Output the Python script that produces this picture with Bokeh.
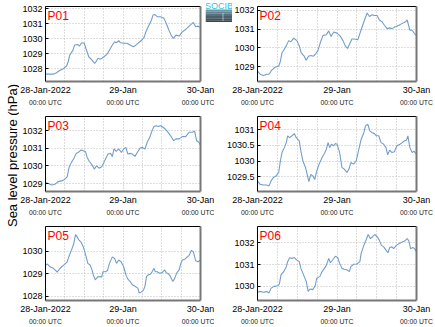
import math
from bokeh.plotting import figure
from bokeh.layouts import column, row
from bokeh.models import Range1d, FixedTicker, LinearAxis, Label
from bokeh.core.properties import value
from bokeh.embed import file_html
from bokeh.resources import INLINE

# ---------------- data ----------------
stations = ["P01", "P02", "P03", "P04", "P05", "P06"]

hours_p01 = [0, 2.4, 3.4, 4.5, 5.5, 6.5, 7.0, 7.5, 8.5, 9.0, 10.0, 10.5, 11.2, 12.0, 12.6, 13.4, 14.4, 15.2, 15.6, 16.3,
             17.1, 18.1, 19.1, 19.8, 20.7, 21.4, 21.9, 22.7, 23.2, 24.2, 25.2, 26.2, 27.2, 27.7, 28.8, 29.8, 30.6, 31.1, 31.8, 32.8,
             33.3, 33.8, 34.6, 35.6, 36.7, 37.4, 38.2, 38.9, 39.6, 40.4, 41.4, 42.4, 43.4, 44.5, 45.8, 46.5, 47.2, 48.0]
pres_p01 = [1027.64, 1027.64, 1027.73, 1027.9, 1028.0, 1028.18, 1028.45, 1028.9, 1029.24, 1029.58,
            1029.62, 1029.5, 1029.73, 1029.7, 1029.3, 1028.8, 1028.58, 1028.35, 1028.46, 1028.7,
            1028.64, 1028.8, 1028.98, 1029.24, 1029.58, 1029.8, 1029.73, 1029.87, 1029.73, 1029.7,
            1029.7, 1029.58, 1029.47, 1029.53, 1029.73, 1029.9, 1030.13, 1030.47, 1030.8, 1031.24,
            1031.58, 1031.62, 1031.47, 1031.47, 1031.36, 1031.02, 1030.58, 1030.24, 1030.02, 1030.24,
            1030.18, 1030.47, 1030.62, 1030.84, 1031.09, 1030.8, 1030.84, 1030.76]

hours_p02 = [0, 0.8, 1.8, 2.8, 3.5, 4.3, 5.3, 6.4, 6.9, 7.4, 8.1, 8.7, 9.4, 10.1, 10.9, 11.9, 12.6, 13.2, 14.1, 14.7,
             15.4, 16.1, 16.9, 17.4, 18.2, 19.0, 19.8, 20.8, 21.5, 22.2, 23.0, 24.0, 25.0, 25.8, 26.5, 27.2, 27.8, 28.5, 29.2, 30.3,
             30.9, 31.6, 32.3, 33.1, 33.8, 34.6, 35.3, 36.1, 36.8, 37.6, 38.3, 39.1, 39.9, 40.6, 41.6, 42.7, 43.7, 44.7, 45.2, 46.0,
             46.7, 47.4, 48.0]
pres_p02 = [1028.76, 1028.59, 1028.52, 1028.59, 1028.59, 1028.81, 1028.96, 1029.03, 1029.27, 1029.73,
            1029.92, 1030.1, 1030.38, 1030.32, 1030.51, 1030.38, 1030.1, 1029.73, 1029.55, 1029.33,
            1029.55, 1029.59, 1029.55, 1029.64, 1029.83, 1030.29, 1030.66, 1030.69, 1030.9, 1030.6,
            1030.84, 1030.78, 1030.62, 1030.38, 1030.1, 1029.96, 1030.2, 1030.47, 1030.47, 1030.43,
            1030.75, 1031.12, 1031.48, 1031.85, 1031.67, 1031.76, 1031.72, 1031.72, 1031.48, 1031.39,
            1031.2, 1031.02, 1031.06, 1031.02, 1031.12, 1031.2, 1031.3, 1031.39, 1031.48, 1030.93,
            1030.93, 1030.75, 1030.66]

hours_p03 = [0, 0.9, 1.9, 2.9, 3.9, 5.0, 6.0, 6.7, 7.3, 8.0, 8.7, 9.5, 10.2, 11.0, 11.7, 12.4, 12.9, 13.6, 14.4, 15.1,
             15.8, 16.6, 17.4, 18.1, 18.8, 19.4, 20.2, 20.7, 21.2, 21.9, 22.7, 23.5, 24.2, 24.9, 25.5, 26.2, 26.9, 27.7, 28.6, 29.3,
             30.0, 30.8, 31.5, 32.3, 33.0, 33.6, 34.3, 35.0, 35.6, 36.4, 37.1, 37.9, 38.7, 39.7, 40.4, 41.4, 42.4, 43.4, 44.5, 45.5,
             46.2, 46.8, 47.5, 48.0]
pres_p03 = [1029.06, 1029.0, 1028.92, 1028.96, 1029.11, 1029.15, 1029.25, 1029.38, 1029.91, 1030.2,
            1030.39, 1030.71, 1030.77, 1030.9, 1030.86, 1030.8, 1030.48, 1030.25, 1030.06, 1029.82,
            1030.0, 1029.87, 1029.95, 1030.2, 1030.48, 1030.67, 1030.71, 1030.52, 1030.96, 1030.82,
            1030.96, 1030.77, 1030.96, 1031.05, 1030.67, 1030.71, 1030.67, 1030.54, 1030.82, 1031.01,
            1031.05, 1030.96, 1031.34, 1031.62, 1032.0, 1032.23, 1032.28, 1032.23, 1032.28, 1032.19,
            1032.09, 1031.91, 1031.72, 1031.43, 1031.53, 1031.53, 1031.66, 1031.66, 1031.91, 1031.91,
            1031.96, 1031.43, 1031.34, 1031.15]

hours_p04 = [0, 0.8, 1.8, 2.8, 3.5, 4.1, 4.8, 5.6, 6.4, 6.9, 7.4, 8.1, 8.7, 9.1, 9.7, 10.4, 11.1, 11.7, 12.6, 13.1,
             13.7, 14.5, 15.1, 15.5, 16.1, 16.7, 17.3, 17.9, 18.6, 19.5, 20.2, 20.8, 21.3, 21.8, 22.3, 23.0, 23.5, 24.0, 24.8, 25.5,
             26.2, 27.0, 27.6, 28.2, 29.0, 29.8, 30.6, 31.3, 32.1, 32.6, 33.3, 33.9, 34.6, 35.3, 35.9, 36.6, 37.3, 38.1, 38.8, 39.3,
             39.9, 40.6, 41.3, 42.1, 43.0, 43.7, 44.4, 45.0, 45.4, 46.0, 46.7, 47.2, 48.0]
pres_p04 = [1029.36, 1029.25, 1029.23, 1029.23, 1029.2, 1029.36, 1029.47, 1029.52, 1029.63, 1030.0,
            1030.27, 1030.43, 1030.59, 1030.81, 1030.75, 1030.81, 1030.88, 1030.75, 1030.65, 1030.32,
            1030.0, 1029.79, 1029.52, 1029.34, 1029.57, 1029.52, 1029.41, 1029.68, 1029.9, 1030.11,
            1030.24, 1030.38, 1030.59, 1030.43, 1030.54, 1030.49, 1030.56, 1030.54, 1030.27, 1029.79,
            1029.74, 1029.63, 1029.74, 1029.95, 1029.9, 1030.0, 1030.38, 1030.7, 1030.91, 1031.13,
            1031.18, 1030.97, 1030.91, 1030.88, 1030.81, 1030.81, 1030.59, 1030.54, 1030.43, 1030.2,
            1030.35, 1030.27, 1030.3, 1030.49, 1030.54, 1030.59, 1030.65, 1030.67, 1030.81, 1030.43,
            1030.27, 1030.32, 1030.22]

hours_p05 = [0, 0.6, 1.4, 2.4, 3.2, 3.6, 4.3, 5.0, 6.0, 6.7, 7.3, 8.0, 8.7, 9.3, 9.7, 10.3, 11.0, 11.7, 12.6, 13.1,
             13.8, 14.4, 14.8, 15.4, 16.1, 16.8, 17.4, 17.8, 18.6, 19.2, 19.8, 20.7, 21.4, 22.0, 22.7, 23.4, 24.2, 24.9, 25.5, 26.2,
             26.9, 27.7, 28.6, 29.0, 29.6, 30.3, 30.8, 31.3, 31.8, 32.5, 33.0, 33.6, 34.0, 34.6, 35.3, 36.1, 36.9, 37.4, 38.1, 38.7,
             39.4, 39.9, 40.7, 41.4, 41.9, 42.4, 43.1, 43.7, 44.5, 45.2, 45.8, 46.5, 47.2, 48.0]
pres_p05 = [1029.39, 1029.43, 1029.31, 1029.24, 1029.14, 1029.07, 1029.2, 1029.31, 1029.43, 1029.53,
            1029.78, 1030.04, 1030.31, 1030.74, 1030.66, 1030.51, 1030.41, 1030.19, 1029.75, 1029.46,
            1029.39, 1029.17, 1028.95, 1028.73, 1028.85, 1028.88, 1028.85, 1029.09, 1029.09, 1029.14,
            1029.46, 1029.75, 1029.68, 1029.46, 1029.61, 1029.53, 1029.31, 1028.95, 1028.76, 1028.66,
            1028.51, 1028.44, 1028.36, 1028.15, 1028.18, 1028.26, 1028.44, 1028.88, 1028.95, 1028.98,
            1029.09, 1029.24, 1029.09, 1029.09, 1029.02, 1029.05, 1029.17, 1029.05, 1028.99, 1028.88,
            1028.66, 1028.76, 1029.05, 1029.17, 1029.46, 1029.61, 1029.64, 1029.72, 1029.82, 1030.04,
            1029.97, 1029.58, 1029.53, 1029.61]

hours_p06 = [0, 0.8, 1.8, 2.8, 3.5, 4.1, 5.0, 6.1, 6.6, 7.1, 7.9, 8.7, 9.1, 9.7, 10.4, 11.1, 11.9, 12.6, 13.1, 13.9,
             14.7, 15.3, 15.9, 16.7, 17.4, 17.9, 18.8, 19.5, 20.2, 20.8, 21.5, 22.0, 22.8, 23.5, 24.2, 24.8, 25.5, 26.2, 27.0, 27.7,
             28.2, 29.0, 30.0, 30.9, 31.3, 32.1, 32.8, 33.4, 34.1, 34.8, 35.4, 36.1, 36.8, 37.4, 38.1, 38.8, 39.4, 39.9, 40.6, 41.1,
             41.9, 42.7, 43.7, 44.4, 45.2, 45.7, 46.2, 46.9, 47.4, 48.0]
pres_p06 = [1029.73, 1029.77, 1029.73, 1029.76, 1029.7, 1029.92, 1030.0, 1030.03, 1030.12, 1030.53,
            1030.68, 1030.91, 1031.14, 1031.32, 1031.29, 1031.33, 1031.21, 1031.14, 1030.83, 1030.53,
            1030.23, 1029.77, 1029.88, 1029.85, 1030.03, 1030.38, 1030.45, 1030.68, 1030.83, 1030.98,
            1031.29, 1031.09, 1031.24, 1031.39, 1031.33, 1031.06, 1030.83, 1030.79, 1030.76, 1030.68,
            1030.91, 1031.02, 1031.03, 1031.14, 1031.52, 1031.89, 1032.15, 1032.39, 1032.2, 1032.3,
            1032.39, 1032.3, 1032.12, 1031.89, 1031.82, 1031.67, 1031.55, 1031.79, 1031.82, 1031.74,
            1031.89, 1031.97, 1032.05, 1032.09, 1032.2, 1032.09, 1031.74, 1031.79, 1031.74, 1031.59]

# y-axis limits and ticks (hPa)
ylim_p01 = (1027.15, 1032.15)
ylim_p02 = (1028.2, 1032.2)
ylim_p03 = (1028.55, 1032.8)
ylim_p04 = (1029.02, 1031.43)
ylim_p05 = (1027.81, 1031.1)
ylim_p06 = (1029.35, 1032.76)
yticks_p01 = [1028, 1029, 1030, 1031, 1032]
yticks_p02 = [1029, 1030, 1031, 1032]
yticks_p03 = [1029, 1030, 1031, 1032]
yticks_p04 = [1029.5, 1030, 1030.5, 1031]
yticks_p05 = [1028, 1029, 1030]
yticks_p06 = [1030, 1031, 1032]

# x axis: hours since 28-Jan-2022 00:00 UTC
x_tick_hours = [0, 24, 48]
x_tick_dates = ["28-Jan-2022", "29-Jan", "30-Jan"]
x_tick_times = ["00:00 UTC", "00:00 UTC", "00:00 UTC"]
grid_hours = [0, 6, 12, 18, 24, 30, 36, 42, 48]
y_title = "Sea level pressure (hPa)"
logo_text = "SOCIB"

series = [
    (hours_p01, pres_p01, ylim_p01, yticks_p01),
    (hours_p02, pres_p02, ylim_p02, yticks_p02),
    (hours_p03, pres_p03, ylim_p03, yticks_p03),
    (hours_p04, pres_p04, ylim_p04, yticks_p04),
    (hours_p05, pres_p05, ylim_p05, yticks_p05),
    (hours_p06, pres_p06, ylim_p06, yticks_p06),
]

FONT = "Liberation Sans"
LINE_COLOR = "#729ecb"
EDGE_GRAY = "#777777"
TITLE_W = 19
LEFT_W = 214 - TITLE_W
RIGHT_W = 435 - 214
FRAME_W = {0: 158, 1: 159}
FRAME_H = 75


def make_panel(i):
    hrs, vals, ylim, yticks = series[i]
    n = min(len(hrs), len(vals))
    col_i = i % 2
    row_i = i // 2
    left = col_i == 0
    width = LEFT_W if left else RIGHT_W
    height = 107 if row_i == 2 else 110
    bl = 42 - TITLE_W if left else 257 - 214
    p = figure(width=width, height=height, output_backend="svg", toolbar_location=None,
               x_range=Range1d(0, 48), y_range=Range1d(*ylim),
               min_border_left=bl, min_border_right=width - bl - FRAME_W[col_i],
               min_border_top=6, min_border_bottom=height - 6 - FRAME_H,
               background_fill_color="white", border_fill_color="white")
    p.outline_line_color = None

    p.line(hrs[:n], vals[:n], line_color=LINE_COLOR, line_width=1.1)

    # grids
    p.xgrid.ticker = FixedTicker(ticks=grid_hours)
    p.ygrid.ticker = FixedTicker(ticks=yticks)
    for g in (p.xgrid[0], p.ygrid[0]):
        g.grid_line_color = "#bdbdbd"
        g.grid_line_dash = "1 2"
        g.grid_line_width = 1

    # bottom (date) axis
    xa = p.xaxis[0]
    xa.ticker = FixedTicker(ticks=x_tick_hours)
    xa.major_label_overrides = {h: d for h, d in zip(x_tick_hours, x_tick_dates)}
    xa.axis_line_color = EDGE_GRAY
    xa.axis_line_width = 2
    xa.major_tick_in = 0
    xa.major_tick_out = 0
    xa.minor_tick_line_color = None
    xa.major_label_standoff = 3
    xa.major_label_text_font = FONT
    xa.major_label_text_font_size = "9px"
    xa.major_label_text_color = "black"

    # second bottom axis for the time line
    xa2 = LinearAxis(ticker=FixedTicker(ticks=x_tick_hours),
                     major_label_overrides={h: t for h, t in zip(x_tick_hours, x_tick_times)})
    xa2.axis_line_color = None
    xa2.major_tick_line_color = None
    xa2.minor_tick_line_color = None
    xa2.major_tick_in = 0
    xa2.major_tick_out = 0
    xa2.major_label_standoff = 1
    xa2.major_label_text_font = FONT
    xa2.major_label_text_font_size = "6.8px"
    xa2.major_label_text_color = "#222222"
    p.add_layout(xa2, "below")

    # left axis
    ya = p.yaxis[0]
    ya.ticker = FixedTicker(ticks=yticks)
    ya.major_label_overrides = {t: f"{t:g}" for t in yticks}
    ya.axis_line_color = "black"
    ya.axis_line_width = 1
    ya.major_tick_in = 3
    ya.major_tick_out = 0
    ya.major_tick_line_color = "black"
    ya.minor_tick_line_color = None
    ya.major_label_standoff = 3
    ya.major_label_text_font = FONT
    ya.major_label_text_font_size = "9px"
    ya.major_label_text_color = "black"

    # right and top frame edges
    ra = LinearAxis(ticker=FixedTicker(ticks=[]))
    ra.axis_line_color = EDGE_GRAY
    ra.axis_line_width = 2
    ra.major_tick_line_color = None
    ra.minor_tick_line_color = None
    ra.major_label_standoff = 0
    ra.major_label_text_font_size = "0px"
    p.add_layout(ra, "right")
    ta = LinearAxis(ticker=FixedTicker(ticks=[]))
    ta.axis_line_color = "black"
    ta.axis_line_width = 1
    ta.major_tick_line_color = None
    ta.minor_tick_line_color = None
    ta.major_label_standoff = 0
    ta.major_label_text_font_size = "0px"
    p.add_layout(ta, "above")

    # station label
    p.add_layout(Label(x=0, y=ylim[1], x_offset=2, y_offset=-2, text=stations[i],
                       text_align="left", text_baseline="top", text_color="#ff0000",
                       text_font=FONT, text_font_size="12px"))
    return p


panels = [make_panel(i) for i in range(6)]

# ---- small logo, floated over the gap between the two top panels ----
logo_band_colors = ["#6f95a2", "#62838f", "#55717c", "#4a616b", "#40535c", "#37474f"]
logo = figure(width=27, height=22, output_backend="svg", toolbar_location=None,
              x_range=Range1d(0, 27), y_range=Range1d(0, 22), min_border=0,
              background_fill_color="white", border_fill_color="white",
              styles={"position": "absolute", "left": "205px", "top": "0px", "z-index": "5"})
logo.outline_line_color = None
logo.axis.visible = False
logo.grid.visible = False
nb = len(logo_band_colors)
band_h = 13 / nb
logo.quad(left=[0] * nb, right=[27] * nb,
          top=[13 - k * band_h for k in range(nb)],
          bottom=[13 - (k + 1) * band_h for k in range(nb)],
          fill_color=logo_band_colors, line_color=None)
logo.segment(x0=[17.5], y0=[2], x1=[17.5], y1=[10], line_color="white", line_width=1, line_dash="1 1")
logo.text(x=[13.5], y=[22], text=[logo_text], text_align="center", text_baseline="top",
          text_color="#2fc4df", text_font=value(FONT), text_font_size="9px")

# common y-axis title in its own narrow canvas
tfig = figure(width=TITLE_W, height=327, output_backend="svg", toolbar_location=None,
              x_range=Range1d(0, TITLE_W), y_range=Range1d(0, 327),
              min_border=0, background_fill_color="white", border_fill_color="white")
tfig.outline_line_color = None
tfig.axis.visible = False
tfig.grid.visible = False
tfig.add_layout(Label(x=12, y=327 - 155, text=y_title, angle=math.pi / 2,
                      text_align="center", text_baseline="middle", text_color="black",
                      text_font=FONT, text_font_size="13px"))

grid = column(row(panels[0], panels[1]), row(panels[2], panels[3]), row(panels[4], panels[5]),
              spacing=0)
for r in grid.children:
    r.spacing = 0
layout = row(tfig, grid, logo, spacing=0, styles={"position": "relative"})

open("out.html", "w").write(file_html(layout, INLINE))
